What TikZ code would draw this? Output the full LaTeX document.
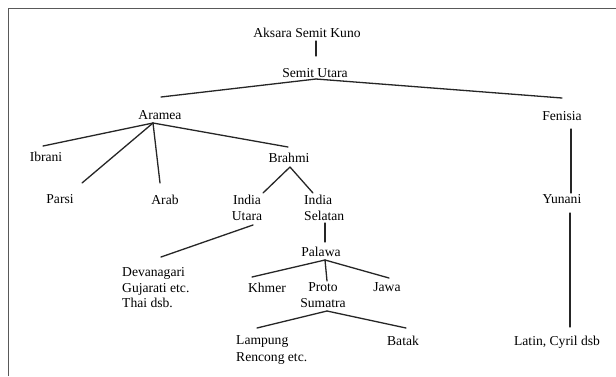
\documentclass[tikz,border=0pt]{standalone}
\usepackage{fontspec}
\setmainfont{Liberation Serif}
\usetikzlibrary{calc}
\begin{document}
\begin{tikzpicture}[x=1pt,y=-1pt,
  lbl/.style={anchor=north,inner sep=0pt,align=center,font=\fontsize{13.6}{16}\selectfont},
  lblw/.style={lbl,anchor=north west,align=left},
  con/.style={line width=1.3pt,black!85,line cap=round},
  frame/.style={line width=1.5pt,black!65}]
\useasboundingbox (0,0) rectangle (616,376);
\fill[white] (0,0) rectangle (616,376);
\coordinate (fbl) at (8.5,376);
\coordinate (ftl) at (8.5,8.5);
\coordinate (ftr) at (616,8.5);
\draw[frame] (fbl) -- (ftl) -- (ftr);

\node[lbl] (aksara) at (307,27.4) {Aksara Semit Kuno};
\node[lbl] (semit) at (315,68.4) {Semit Utara};
\node[lbl] (aramea) at (160,110.4) {Aramea};
\node[lbl] (fenisia) at (562,111.4) {Fenisia};
\node[lbl] (ibrani) at (46,151.4) {Ibrani};
\node[lbl] (brahmi) at (289,152.4) {Brahmi};
\node[lbl] (parsi) at (60,194.4) {Parsi};
\node[lbl] (arab) at (165,194.4) {Arab};
\node[lbl] (indiau) at (247,194.4) {India\\Utara};
\node[lblw] (indias) at (304,194.4) {India\\Selatan};
\node[lbl] (yunani) at (562,194.4) {Yunani};
\node[lbl] (palawa) at (321,246.4) {Palawa};
\node[lblw,font=\fontsize{13.6}{15.5}\selectfont] (dev) at (122,267.4) {Devanagari\\Gujarati etc.\\Thai dsb.};
\node[lbl] (khmer) at (267,282.4) {Khmer};
\node[lbl] (proto) at (323,282.4) {Proto\\Sumatra};
\node[lbl] (jawa) at (387,282.4) {Jawa};
\node[lblw,font=\fontsize{13.6}{17}\selectfont] (lampung) at (236,335.4) {Lampung\\Rencong etc.};
\node[lbl] (batak) at (403,335.4) {Batak};
\node[lbl] (latin) at (557,335.4) {Latin, Cyril dsb};

% connectors
\draw[con] ($(aksara.north)+(9,13.6)$) -- ($(semit.north)+(1,-12.4)$);
\draw[con] ($(semit.north)+(1,10.6)$) -- ($(aramea.north)+(1,-13.4)$);
\draw[con] ($(semit.north)+(1,10.6)$) -- ($(fenisia.north)+(0,-13.4)$);
\draw[con] ($(aramea.north)+(-7,12.6)$) -- ($(ibrani.north)+(-3,-5.4)$);
\draw[con] ($(aramea.north)+(-7,12.6)$) -- ($(parsi.north)+(22,-11.4)$);
\draw[con] ($(aramea.north)+(-7,12.6)$) -- ($(arab.north)+(-5,-11.4)$);
\draw[con] ($(aramea.north)+(-7,12.6)$) -- ($(brahmi.north)+(-1,-5.4)$);
\draw[con] ($(brahmi.north)+(1,14.6)$) -- ($(indiau.north)+(16,-1.4)$);
\draw[con] ($(brahmi.north)+(1,14.6)$) -- ($(indias.north west)+(9,-1.4)$);
\draw[con] ($(indiau.north)+(6,30.6)$) -- ($(dev.north west)+(39,-10.4)$);
\draw[con] ($(indias.north west)+(21,28.6)$) -- ($(palawa.north)+(4,-4.4)$);
\draw[con] ($(palawa.north)+(4,13.6)$) -- ($(khmer.north)+(-15,-5.4)$);
\draw[con] ($(palawa.north)+(4,13.6)$) -- ($(jawa.north)+(2,-4.4)$);
\draw[con] ($(palawa.north)+(4,13.6)$) -- ($(proto.north)+(4,-1.4)$);
\draw[con] ($(proto.north)+(4,28.6)$) -- ($(lampung.north west)+(21,-7.4)$);
\draw[con] ($(proto.north)+(4,28.6)$) -- ($(batak.north)+(3,-7.4)$);
\draw[con] ($(fenisia.north)+(9,17.6)$) -- ($(yunani.north)+(9,-1.4)$);
\draw[con] ($(yunani.north)+(8,18.6)$) -- ($(latin.north)+(13,-8.4)$);
\end{tikzpicture}
\end{document}
